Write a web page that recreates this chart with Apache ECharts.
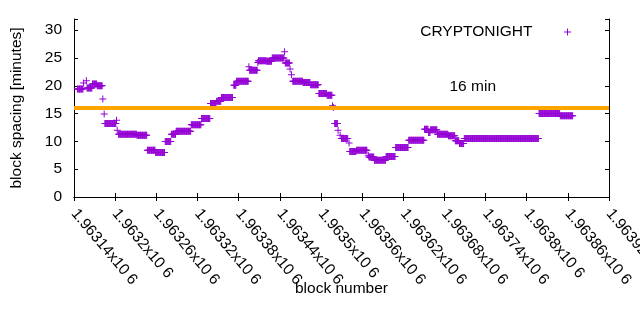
<!DOCTYPE html>
<html><head><meta charset="utf-8">
<script src="https://cdn.jsdelivr.net/npm/echarts@6/dist/echarts.min.js"></script>
<style>html,body{margin:0;padding:0;background:#fff}#c{width:640px;height:330px}</style>
</head><body><div id="c"></div>
<script>
// Runs of blocks sharing the same spacing value (one point per block)
const runStart = [1963145,1963154,1963158,1963159,1963167,1963174,1963182,1963184,1963185,1963202,1963203,1963205,1963232,1963247,1963259,1963273,1963282,1963289,1963311,1963326,1963339,1963348,1963355,1963373,1963377,1963395,1963396,1963408,1963409,1963421,1963429,1963447,1963448,1963455,1963457,1963459,1963474,1963485,1963497,1963509,1963517,1963518,1963520,1963525,1963528,1963530,1963541,1963542,1963552,1963569,1963570,1963578,1963595,1963609,1963628,1963651,1963657,1963660,1963670,1963686,1963696,1963702,1963709,1963818,1963849];
const runEnd   = [1963153,1963154,1963158,1963166,1963173,1963181,1963182,1963184,1963201,1963202,1963203,1963231,1963246,1963258,1963272,1963281,1963288,1963310,1963325,1963338,1963347,1963354,1963371,1963376,1963394,1963395,1963407,1963408,1963420,1963428,1963446,1963447,1963454,1963455,1963457,1963473,1963484,1963496,1963508,1963516,1963517,1963518,1963524,1963525,1963528,1963539,1963541,1963551,1963567,1963569,1963577,1963594,1963608,1963627,1963650,1963656,1963659,1963669,1963685,1963695,1963701,1963708,1963817,1963848,1963867];
const runValue = [19.4,20.5,20.9,19.6,20.3,20.0,17.6,14.9,13.2,13.8,12.0,11.3,11.1,8.4,8.0,10.0,11.3,11.8,13.0,14.1,16.8,17.2,17.9,20.1,20.8,23.4,22.8,24.2,24.5,24.4,25.0,26.1,24.1,23.0,22.0,20.8,20.6,20.2,18.6,18.3,16.4,16.1,13.2,12.0,11.1,10.5,9.7,8.2,8.4,7.5,7.2,6.6,7.3,8.9,10.2,12.2,11.6,12.1,11.3,11.0,10.1,9.6,10.5,15.0,14.6];

const xMin = 1963140, xMax = 1963920, xStep = 60;
const yMin = 0, yMax = 32, yStep = 5;
const xTickLabels = ["1.96314x10 6","1.9632x10 6","1.96326x10 6","1.96332x10 6","1.96338x10 6","1.96344x10 6","1.9635x10 6","1.96356x10 6","1.96362x10 6","1.96368x10 6","1.96374x10 6","1.9638x10 6","1.96386x10 6","1.96392x10 6"];
const seriesName = "CRYPTONIGHT";
const threshold = 16;
const thresholdLabel = "16 min";
const xTitle = "block number";
const yTitle = "block spacing [minutes]";

const points = [];
for (let i = 0; i < runStart.length; i++) {
  for (let b = runStart[i]; b <= runEnd[i]; b++) points.push([b, runValue[i]]);
}

const FONT = 'Liberation Sans';
const FS = 15.5;
const plus = 'path://M6,0H8V6H14V8H8V14H6V8H0V6H6Z';
const axisCommon = {
  axisLine: {show: true, lineStyle: {color: '#000', width: 1}},
  axisTick: {show: true, inside: true, length: 4, lineStyle: {color: '#000', width: 1}},
  splitLine: {show: false}
};

const chart = echarts.init(document.getElementById('c'), null, {renderer: 'canvas'});
chart.setOption({
  animation: false,
  backgroundColor: '#fff',
  grid: {left: 74, right: 31, top: 19, bottom: 133, containLabel: false, outerBoundsMode: 'none'},
  legend: {
    data: [{name: seriesName, icon: plus}],
    right: 69, top: 24, align: 'right', itemWidth: 60, itemHeight: 7, padding: 0,
    symbolKeepAspect: true, selectedMode: false,
    textStyle: {fontFamily: FONT, fontSize: FS, color: '#000'}
  },
  xAxis: [
    Object.assign({}, axisCommon, {
      type: 'value', position: 'bottom', min: xMin, max: xMax, interval: xStep,
      name: xTitle, nameLocation: 'middle', nameGap: 84, nameMoveOverlap: false,
      nameTextStyle: {fontFamily: FONT, fontSize: FS, color: '#000'},
      axisLabel: {
        rotate: -50, margin: 14, interval: 0, hideOverlap: false, showMinLabel: true, showMaxLabel: true,
        fontFamily: FONT, fontSize: FS, color: '#000',
        formatter: v => { const k = Math.round((v - xMin) / xStep); return xTickLabels[k] || ''; }
      }
    }),
    Object.assign({}, axisCommon, {
      type: 'value', position: 'top', min: xMin, max: xMax, interval: xStep,
      axisLabel: {show: false}
    })
  ],
  yAxis: [
    Object.assign({}, axisCommon, {
      type: 'value', position: 'left', min: yMin, max: yMax, interval: yStep,
      name: yTitle, nameLocation: 'middle', nameGap: 49, nameRotate: 90, nameMoveOverlap: false,
      nameTextStyle: {fontFamily: FONT, fontSize: FS, color: '#000'},
      axisLabel: {margin: 12, fontFamily: FONT, fontSize: FS, color: '#000',
        formatter: v => (v % yStep === 0 ? String(v) : '')}
    }),
    Object.assign({}, axisCommon, {
      type: 'value', position: 'right', min: yMin, max: yMax, interval: yStep,
      axisLabel: {show: false}
    })
  ],
  series: [
    {
      name: seriesName, type: 'scatter', xAxisIndex: 0, yAxisIndex: 0,
      symbol: plus, symbolSize: 7, itemStyle: {color: '#9400d3', opacity: 1},
      emphasis: {disabled: true},
      data: points, z: 2
    },
    {
      name: 'threshold', type: 'line', data: [], z: 5, silent: true,
      markLine: {
        silent: true, symbol: ['none', 'none'], z: 5,
        lineStyle: {color: '#ffa500', width: 4, type: 'solid'},
        emphasis: {disabled: true},
        label: {show: true, position: 'insideEndTop', distance: [113, 13], formatter: thresholdLabel,
          fontFamily: FONT, fontSize: FS, color: '#000'},
        data: [{yAxis: threshold}]
      }
    }
  ]
});
</script>
</body></html>
